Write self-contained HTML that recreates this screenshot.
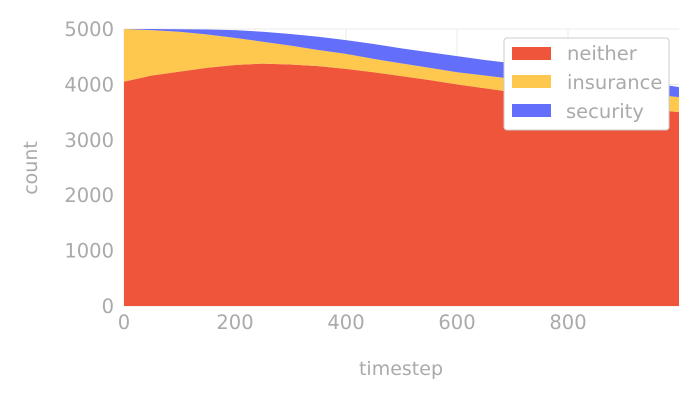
<!DOCTYPE html>
<html><head><meta charset="utf-8"><style>
body{margin:0;background:#fff;}
svg text{font-family:"DejaVu Sans","Liberation Sans",sans-serif;fill:#aaa;}
</style></head><body>
<svg id="chart" width="700" height="400">
<g id="grid"></g>
<g id="areas"></g>
<g id="axes"></g>
<text x="401" y="375" font-size="19" text-anchor="middle">timestep</text>
<text transform="translate(37,168) rotate(-90)" font-size="19" text-anchor="middle">count</text>
<g>
<rect x="504" y="38" width="165" height="92" rx="3" fill="#fff" stroke="#ccc"/>
<rect x="512" y="47" width="39" height="13" fill="#ef553b"/>
<text x="567" y="60" font-size="19.5">neither</text>
<rect x="512" y="75" width="39" height="13" fill="#fec84f"/>
<text x="567" y="89" font-size="19.5">insurance</text>
<rect x="512" y="104" width="39" height="13" fill="#636efa"/>
<text x="566" y="118" font-size="19.5">security</text>
</g>
</svg>
<script>
const timesteps=[0,50,100,150,200,250,300,350,400,450,500,550,600,650,700,750,800,850,900,950,1000];
const neither=[4050,4160,4230,4300,4350,4375,4360,4330,4280,4220,4150,4080,4000,3930,3860,3790,3720,3660,3600,3550,3500];
const insurance=[950,820,720,600,490,395,340,290,270,240,230,220,220,230,240,260,280,280,280,270,270];
const security=[0,20,45,90,140,180,210,240,250,270,270,280,290,280,280,270,250,240,220,210,180];
const xTicks=[0,200,400,600,800];
const yTicks=[0,1000,2000,3000,4000,5000];
const X0=124,X1=679,Y0=306,Y1=29;
const xs=v=>X0+(v/1000)*(X1-X0);
const ys=v=>Y0-(v/5000)*(Y0-Y1);
const NS="http://www.w3.org/2000/svg";
function mk(tag,attrs,parent){const e=document.createElementNS(NS,tag);for(const k in attrs)e.setAttribute(k,attrs[k]);parent.appendChild(e);return e;}
const grid=document.getElementById('grid'),areas=document.getElementById('areas'),axes=document.getElementById('axes');
xTicks.forEach(t=>{
 const l=mk('line',{x1:xs(t),x2:xs(t),y1:Y1,y2:Y0,stroke:'#ebebeb'},grid);
 
 
 const tx=mk('text',{x:xs(t),y:Y0+23,'font-size':19.5,'text-anchor':'middle'},axes);
 tx.textContent=t;
 
 
});
yTicks.forEach(t=>{
 const l=mk('line',{x1:X0,x2:X1,y1:ys(t),y2:ys(t),stroke:'#ebebeb'},grid);
 
 
 const tx=mk('text',{x:X0-10,y:ys(t)+7,'font-size':19.5,'text-anchor':'end'},axes);
 tx.textContent=t;
 
 
});
const series=[["neither",neither,"#ef553b"],["insurance",insurance,"#fec84f"],["security",security,"#636efa"]];
let base=timesteps.map(()=>0);
series.forEach(([name,vals,col])=>{
 const top=base.map((b,i)=>b+vals[i]);
 let pts=timesteps.map((t,i)=>xs(t)+','+ys(top[i]));
 for(let i=timesteps.length-1;i>=0;i--)pts.push(xs(timesteps[i])+','+ys(base[i]));
 const p=mk('polygon',{points:pts.join(' '),fill:col},areas);
 
 
 base=top;
});
</script>
</body></html>
